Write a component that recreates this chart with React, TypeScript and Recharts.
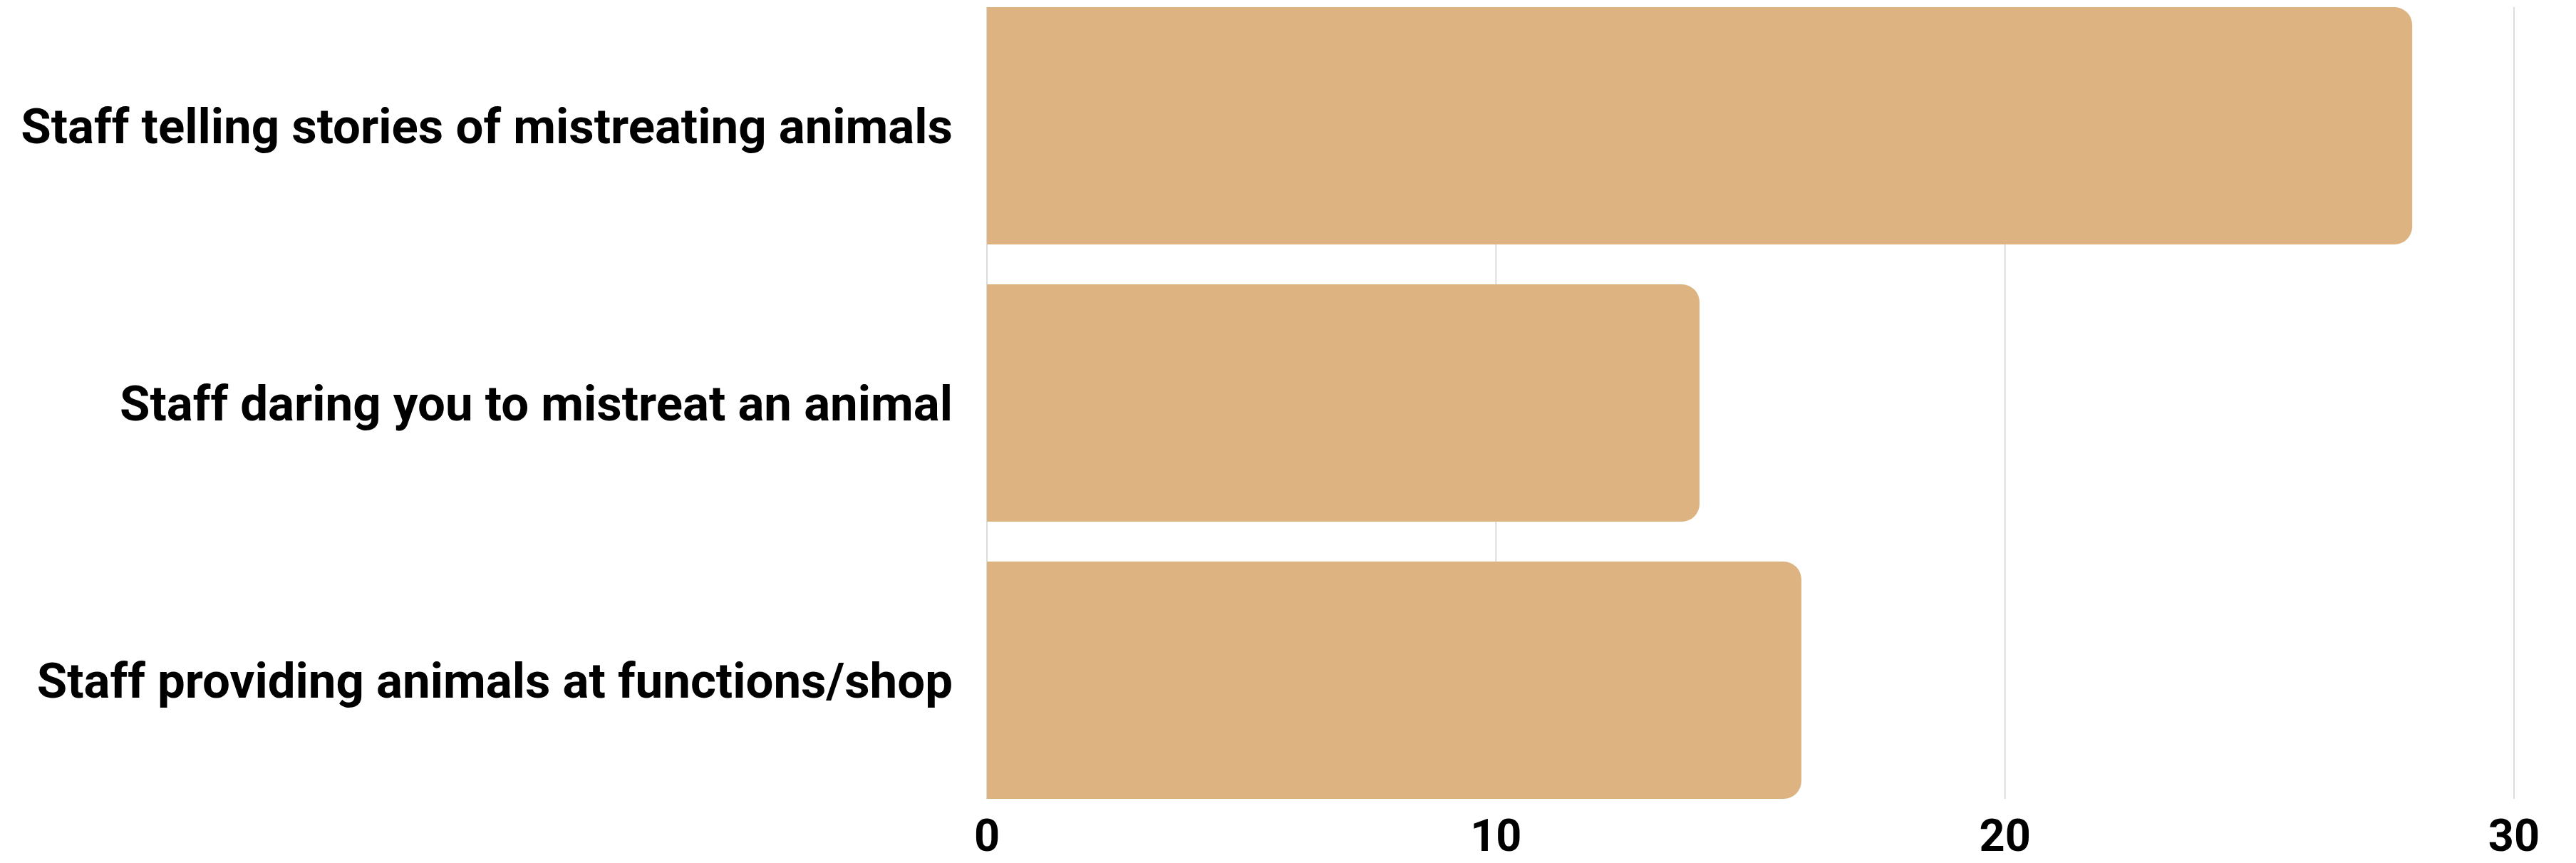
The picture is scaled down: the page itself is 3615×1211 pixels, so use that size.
import React from "react";
import { BarChart, Bar, XAxis, YAxis, CartesianGrid } from "recharts";

const CATEGORIES = [
  "Staff telling stories of mistreating animals",
  "Staff daring you to mistreat an animal",
  "Staff providing animals at functions/shop",
];
const VALUES = [28, 14, 16];
const X_TICKS = [0, 10, 20, 30];

const BAR_COLOR = "#DDB381";
const FONT = "Roboto, 'Noto Sans', sans-serif";

export default function App() {
  const data = CATEGORIES.map((name, i) => ({ name, value: VALUES[i] }));

  return (
    <div style={{ margin: -8, width: 3615, height: 1211, background: "#fff" }}>
      <BarChart
        width={3615}
        height={1211}
        data={data}
        layout="vertical"
        margin={{ top: 10, right: 87, bottom: 0, left: 0 }}
        barCategoryGap={28}
      >
        <CartesianGrid horizontal={false} stroke="#dcdcdc" strokeWidth={2} />
        <XAxis
          type="number"
          domain={[0, 30]}
          ticks={X_TICKS}
          height={90}
          axisLine={false}
          tickLine={false}
          tickMargin={22}
          tick={{ fontSize: 63, fontWeight: 700, fill: "#000", fontFamily: FONT }}
        />
        <YAxis
          type="category"
          dataKey="name"
          width={1385}
          axisLine={false}
          tickLine={false}
          tickMargin={42}
          padding={{ top: -28, bottom: -28 }}
          tick={{ fontSize: 69, fontWeight: 700, fill: "#000", fontFamily: FONT }}
        />
        <Bar dataKey="value" fill={BAR_COLOR} radius={[0, 25, 25, 0]} isAnimationActive={false} />
      </BarChart>
    </div>
  );
}
